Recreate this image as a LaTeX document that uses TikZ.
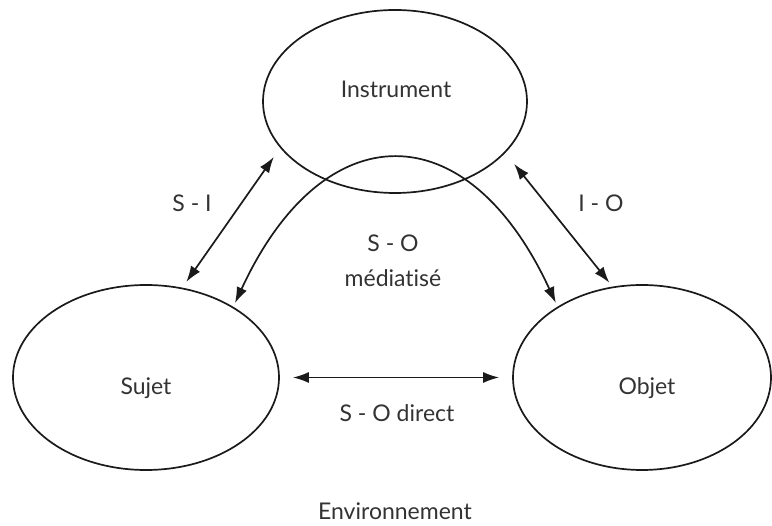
\documentclass[tikz,border=0pt]{standalone}
\usepackage{fontspec}
\setmainfont{Lato}[Ligatures={NoCommon}]
\usetikzlibrary{shapes.geometric,arrows.meta}
\definecolor{linec}{HTML}{1A1A1A}
\definecolor{textc}{HTML}{333333}
\begin{document}
\begin{tikzpicture}[x=1pt,y=-1pt,
  ell/.style={draw=linec, line width=1.7pt, ellipse, inner sep=0pt},
  lbl/.style={text=textc, font=\fontsize{23}{28}\selectfont, anchor=base, inner sep=0pt},
  conn/.style={draw=linec, line width=1.7pt, {Latex[length=16pt,width=11pt]}-{Latex[length=16pt,width=11pt]}},
]
\useasboundingbox (0,0) rectangle (772,526);
\fill[white] (0,0) rectangle (772,526);

\node[ell, minimum width=264pt, minimum height=183pt] (instrument) at (395,101.5) {};
\node[ell, minimum width=266pt, minimum height=185pt] (sujet) at (146,377.5) {};
\node[ell, minimum width=258pt, minimum height=185pt] (objet) at (642,377.5) {};

\draw[conn, shorten <=7pt, shorten >=11pt] (sujet.68.9) -- (instrument.202.4);
\draw[conn, shorten <=14pt, shorten >=5pt] (instrument.335.5) -- (objet.108.6);
\draw[conn, shorten <=4pt, shorten >=4pt] (sujet.39.4) .. controls +(90,-195) and +(-90,-195) .. (objet.140);
\draw[conn, shorten <=13pt, shorten >=13pt] (sujet.east) -- (objet.west);

\node[lbl] (tinstr) at (396,98) {Instrument};
\node[lbl] (tsujet) at (146,395) {Sujet};
\node[lbl] (tobjet) at (647,395) {Objet};
\node[lbl] (tsi) at (192,212) {S - I};
\node[lbl] (tio) at (601,212) {I - O};
\node[lbl] (tso) at (393,252) {S - O};
\node[lbl] (tmed) at (393,287) {médiatisé};
\node[lbl] (tdir) at (397,422) {S - O direct};
\node[lbl] (tenv) at (395,520) {Environnement};
\end{tikzpicture}
\end{document}
